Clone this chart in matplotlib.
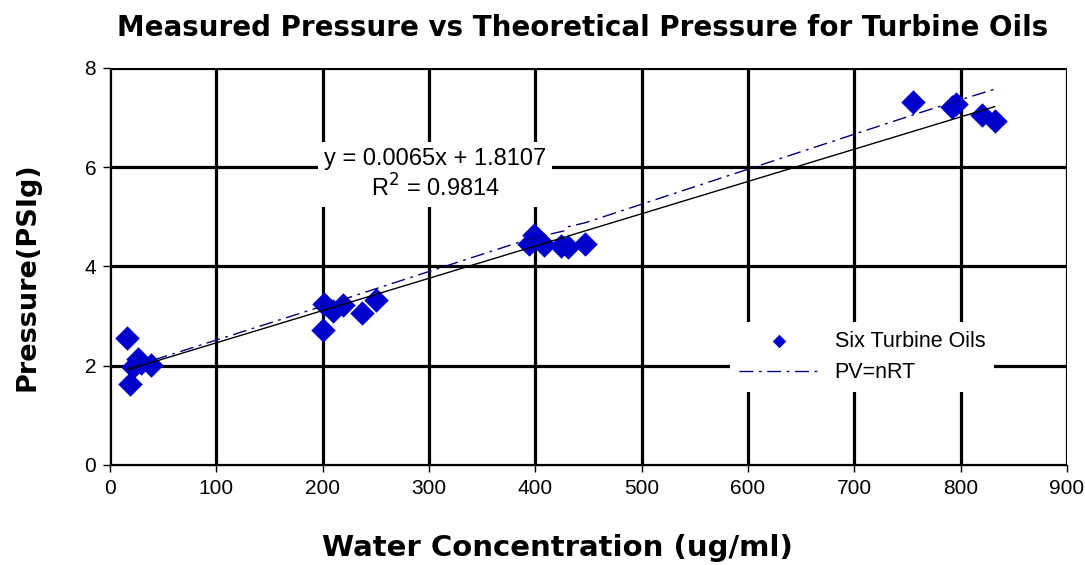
"""Measured vs theoretical pressure for turbine oils (Excel-style scatter)."""

import matplotlib

matplotlib.use("Agg")
import matplotlib.pyplot as plt
import numpy as np

# ---------------------------------------------------------------------------
# Data
# ---------------------------------------------------------------------------

WATER_UGML = [16, 19, 22, 26, 29, 39,
              200, 201, 210, 219, 237, 250,
              394, 399, 408, 424, 431, 447,
              755, 792, 796, 820, 832]
PRESSURE_PSIG = [2.55, 1.63, 1.97, 2.13, 2.05, 2.02,
                 2.71, 3.25, 3.11, 3.23, 3.07, 3.33,
                 4.45, 4.63, 4.43, 4.41, 4.40, 4.45,
                 7.31, 7.21, 7.27, 7.05, 6.93]

# theoretical PV=nRT curve
THEORY_X = [16, 39, 200, 250, 394, 428, 431, 447, 755, 796, 832]
THEORY_Y = [1.96, 2.10, 3.20, 3.55, 4.55, 4.72, 4.80, 4.88, 7.05, 7.33, 7.57]

SLOPE = 0.0065
INTERCEPT = 1.8107
R_SQUARED = 0.9814

X_TICKS = [0, 100, 200, 300, 400, 500, 600, 700, 800, 900]
Y_TICKS = [0, 2, 4, 6, 8]

POINT_COLOR = "#0000CC"
THEORY_COLOR = "#000080"
TEXT_FONT = ["Liberation Sans", "DejaVu Sans"]
TITLE_FONT = ["DejaVu Sans"]


def main():
    fig = plt.figure(figsize=(10.85, 5.65), dpi=100)
    ax = fig.add_axes([0.1014, 0.177, 0.8820, 0.7030])

    ax.set_xlim(X_TICKS[0], X_TICKS[-1])
    ax.set_ylim(Y_TICKS[0], Y_TICKS[-1])
    ax.set_xticks(X_TICKS)
    ax.set_yticks(Y_TICKS)
    ax.tick_params(direction="out", length=5, width=1, labelsize=15, pad=5)
    for lab in ax.get_xticklabels() + ax.get_yticklabels():
        lab.set_family(TEXT_FONT)

    # heavy Excel gridlines; thin left/bottom axes
    ax.grid(True, color="black", linewidth=2.3, zorder=0)
    ax.set_axisbelow(True)
    for side in ["top", "right"]:
        ax.spines[side].set_visible(False)
    for side in ["left", "bottom"]:
        ax.spines[side].set_linewidth(1)

    ax.scatter(WATER_UGML, PRESSURE_PSIG, marker="D", s=155, color=POINT_COLOR,
               linewidths=0, zorder=3, label="Six Turbine Oils")

    tx = np.array([min(WATER_UGML), max(WATER_UGML)])
    ax.plot(tx, SLOPE * tx + INTERCEPT, color="black", linewidth=1, zorder=4)

    ax.plot(THEORY_X, THEORY_Y, color=THEORY_COLOR, linewidth=1,
            dashes=(10, 4, 2, 4), zorder=4, label="PV=nRT")

    ax.text(306, 5.85, f"y = {SLOPE}x + {INTERCEPT}\nR$^2$ = {R_SQUARED}",
            ha="center", va="center", fontsize=17, family=TEXT_FONT,
            linespacing=1.2, zorder=5,
            bbox=dict(boxstyle="square,pad=0.25", facecolor="white", edgecolor="none"))

    leg = ax.legend(loc="upper left", bbox_to_anchor=(0.648, 0.36), frameon=True,
                    fancybox=False, edgecolor="none", framealpha=1, markerscale=0.55,
                    prop={"family": TEXT_FONT, "size": 15.5}, handlelength=3.7,
                    borderpad=0.4, borderaxespad=0, labelspacing=0.5,
                    handletextpad=0.75)
    leg.set_zorder(6)

    fig.text(0.537, 0.950, "Measured Pressure vs Theoretical Pressure for Turbine Oils",
             ha="center", va="center", fontsize=20, fontweight="bold", family=TITLE_FONT)
    fig.text(0.514, 0.030, "Water Concentration (ug/ml)", ha="center", va="center",
             fontsize=21, fontweight="bold", family=TITLE_FONT)
    fig.text(0.025, 0.51, "Pressure(PSIg)", ha="center", va="center", rotation=90,
             fontsize=19.5, fontweight="bold", family=TITLE_FONT)

    fig.savefig("out.png", dpi=100, facecolor="white")
    plt.close(fig)


if __name__ == "__main__":
    main()
